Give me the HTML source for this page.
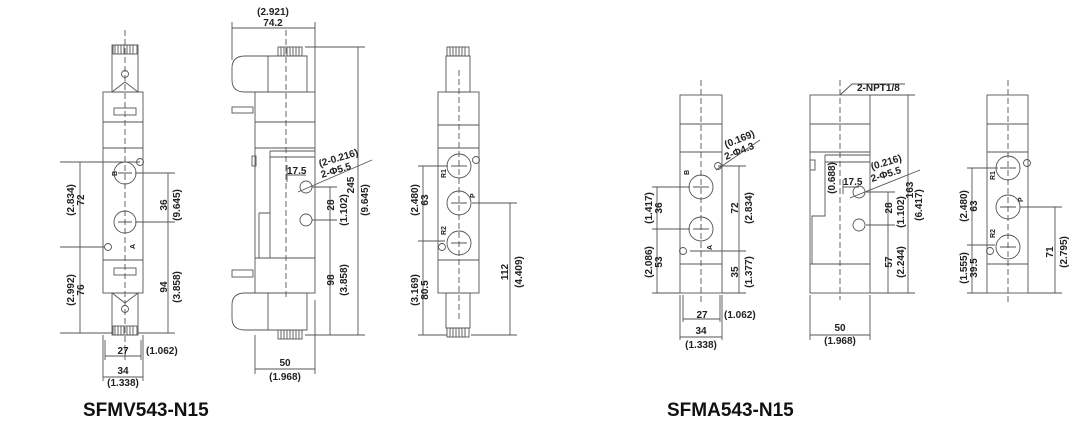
<!DOCTYPE html>
<html><head><meta charset="utf-8"><style>
html,body{margin:0;padding:0;background:#fff;}
svg{display:block}
text{font-family:"Liberation Sans",Arial,sans-serif;font-size:10px;fill:#222;font-weight:bold}
text.p{font-size:7px}
.t{font-size:19px;fill:#111}
</style></head><body>
<svg width="1079" height="437" viewBox="0 0 1079 437" xmlns="http://www.w3.org/2000/svg">
<g fill="none" stroke="#555" stroke-width="0.9">
<!-- VIEW 1 -->
<rect x="103" y="92" width="40" height="201" fill="#fff"/>
<path d="M103 122H143M103 148H143M103 260H143"/>
<rect x="112" y="45" width="26" height="47"/>
<rect x="113" y="45" width="24" height="9"/>
<path d="M115 45v9M118 45v9M121 45v9M124 45v9M127 45v9M130 45v9M133 45v9"/>
<path d="M112 92l13-10l13 10"/>
<rect x="114" y="108" width="22" height="7"/>
<rect x="112" y="293" width="26" height="42"/>
<rect x="113" y="326" width="24" height="9"/>
<path d="M115 326v9M118 326v9M121 326v9M124 326v9M127 326v9M130 326v9M133 326v9"/>
<path d="M112 293l13 10l13-10"/>
<rect x="114" y="268" width="22" height="7"/>
<circle cx="125" cy="173" r="11"/><circle cx="125" cy="222" r="11"/>
<path d="M118 173h14M118 222h14"/>
<circle cx="140" cy="162" r="3.5"/><circle cx="108" cy="247" r="3.5"/>
<circle cx="125" cy="74" r="3.5"/><circle cx="125" cy="309" r="3.5"/>
<path d="M125 30V360" stroke-dasharray="6 3"/>
<path d="M80 162V333M60 162H140M60 247H105M60 333H112M74 247h12"/>
<path d="M168 173V333M135 173H175M135 222H175M138 333H175M162 222h12"/>
<path d="M105 340V360M141 340V360M105 356H141M103 335V381M143 335V381M103 377H143"/>
<!-- VIEW 2 -->
<rect x="255" y="92" width="60" height="201" fill="#fff"/>
<path d="M255 122H315M255 148H315M255 258H315"/>
<path d="M270 151H315M270 157H315M270 151V258M259 213V258M259 213H270"/>
<rect x="252" y="156" width="4" height="10"/>
<path d="M245 56H307V92H245Q232 92 232 80V68Q232 56 245 56Z"/>
<path d="M268 56V92"/>
<rect x="278" y="47" width="24" height="9"/>
<path d="M281 47v9M284 47v9M287 47v9M290 47v9M293 47v9M296 47v9M299 47v9"/>
<rect x="232" y="107" width="21" height="6"/>
<path d="M245 293H307V330H245Q232 330 232 318V305Q232 293 245 293Z"/>
<path d="M268 293V330"/>
<rect x="278" y="330" width="24" height="9"/>
<path d="M281 330v9M284 330v9M287 330v9M290 330v9M293 330v9M296 330v9M299 330v9"/>
<rect x="232" y="270" width="21" height="7"/>
<circle cx="306" cy="187" r="6"/><circle cx="306" cy="220" r="6"/>
<path d="M286 30V300" stroke-dasharray="6 3"/>
<path d="M232 28H315M232 22V60M315 22V92"/>
<path d="M358 47V335M305 47H365M305 335H365"/>
<path d="M330 187V335M312 187H337M312 220H337"/>
<path d="M287 175H306M287 165V182"/>
<path d="M298 192L372 160"/>
<path d="M255 369H315M255 335V374M315 300V374"/>
<!-- VIEW 3 -->
<rect x="438" y="92" width="41" height="201" fill="#fff"/>
<path d="M438 125H479M438 148H479M438 260H479"/>
<rect x="446" y="56" width="24" height="36"/>
<rect x="447" y="47" width="22" height="9"/>
<path d="M450 47v9M453 47v9M456 47v9M459 47v9M462 47v9M465 47v9"/>
<rect x="446" y="293" width="24" height="35"/>
<rect x="447" y="328" width="22" height="9"/>
<path d="M450 328v9M453 328v9M456 328v9M459 328v9M462 328v9M465 328v9"/>
<circle cx="459" cy="166" r="12"/><circle cx="459" cy="203" r="12"/><circle cx="459" cy="243" r="12"/>
<path d="M451 166h16M451 203h16M451 243h16"/>
<circle cx="476" cy="160" r="3.5"/><circle cx="442" cy="247" r="3.5"/>
<path d="M459 70V320" stroke-dasharray="6 3"/>
<path d="M423 166V335M418 166H448M418 241H445M418 335H447"/>
<path d="M510 203V335M472 203H517M471 335H517"/>
<!-- VIEW 4 -->
<rect x="680" y="95" width="42" height="198" fill="#fff"/>
<path d="M680 124H722M680 152H722M680 264H722"/>
<circle cx="701" cy="187" r="12"/><circle cx="701" cy="229" r="12"/>
<path d="M693 187h16M693 229h16"/>
<circle cx="718" cy="166" r="3.5"/><circle cx="683" cy="251" r="3.5"/>
<path d="M701 80V305" stroke-dasharray="6 3"/>
<path d="M657 187V293M652 187H690M652 229H690M652 293H680"/>
<path d="M739 166V293M718 166H746M690 251H746M722 293H746"/>
<path d="M683 295V322M720 295V322M683 319H720M680 295V340M722 295V340M680 337H722"/>
<path d="M716 170L760 140"/>
<!-- VIEW 5 -->
<rect x="810" y="95" width="60" height="198" fill="#fff"/>
<path d="M810 124H870M810 152H870M810 264H870"/>
<path d="M825 155H870M825 162H870M825 155V216H812V264"/>
<rect x="810" y="160" width="5" height="10"/>
<circle cx="859" cy="192" r="6"/><circle cx="859" cy="225" r="6"/>
<path d="M840 80V300" stroke-dasharray="6 3"/>
<path d="M840 95L852 84H905"/>
<path d="M908 95V293M870 95H915M870 293H915"/>
<path d="M888 192V293M866 192H895M866 225H895"/>
<path d="M843 187H859M843 180V194"/>
<path d="M850 198L920 170"/>
<path d="M810 335H870M810 295V340M870 295V340"/>
<!-- VIEW 6 -->
<rect x="987" y="95" width="41" height="198" fill="#fff"/>
<path d="M987 124H1028M987 152H1028M987 264H1028"/>
<circle cx="1008" cy="168" r="12"/><circle cx="1008" cy="207" r="12"/><circle cx="1008" cy="247" r="12"/>
<path d="M1000 168h16M1000 207h16M1000 247h16"/>
<circle cx="1027" cy="163" r="3.5"/><circle cx="990" cy="251" r="3.5"/>
<path d="M1008 80V305" stroke-dasharray="6 3"/>
<path d="M972 168V293M967 168H998M967 245H995M967 293H987"/>
<path d="M1055 207V293M1020 207H1062M1028 293H1062"/>
</g>
<!-- TEXT -->
<g>
<text class="p" transform="translate(117,176) rotate(-90)">B</text>
<text class="p" transform="translate(135,249) rotate(-90)">A</text>
<text transform="translate(74,200) rotate(-90)" text-anchor="middle">(2.834)</text>
<text transform="translate(84,200) rotate(-90)" text-anchor="middle">72</text>
<text transform="translate(74,290) rotate(-90)" text-anchor="middle">(2.992)</text>
<text transform="translate(84,290) rotate(-90)" text-anchor="middle">76</text>
<text transform="translate(167,205) rotate(-90)" text-anchor="middle">36</text>
<text transform="translate(180,205) rotate(-90)" text-anchor="middle">(9.645)</text>
<text transform="translate(167,287) rotate(-90)" text-anchor="middle">94</text>
<text transform="translate(180,287) rotate(-90)" text-anchor="middle">(3.858)</text>
<text x="123" y="354" text-anchor="middle">27</text>
<text x="146" y="354">(1.062)</text>
<text x="123" y="374" text-anchor="middle">34</text>
<text x="123" y="386" text-anchor="middle">(1.338)</text>

<text x="273" y="15" text-anchor="middle">(2.921)</text>
<text x="273" y="26" text-anchor="middle">74.2</text>
<text x="287" y="174">17.5</text>
<text transform="translate(320,167) rotate(-17)">(2-0.216)</text>
<text transform="translate(322,178) rotate(-17)">2-Φ5.5</text>
<text transform="translate(334,205) rotate(-90)" text-anchor="middle">28</text>
<text transform="translate(347,210) rotate(-90)" text-anchor="middle">(1.102)</text>
<text transform="translate(354,185) rotate(-90)" text-anchor="middle">245</text>
<text transform="translate(368,200) rotate(-90)" text-anchor="middle">(9.645)</text>
<text transform="translate(334,280) rotate(-90)" text-anchor="middle">98</text>
<text transform="translate(347,280) rotate(-90)" text-anchor="middle">(3.858)</text>
<text x="285" y="366" text-anchor="middle">50</text>
<text x="285" y="380" text-anchor="middle">(1.968)</text>

<text class="p" transform="translate(446,178) rotate(-90)">R1</text>
<text class="p" transform="translate(475,198) rotate(-90)">P</text>
<text class="p" transform="translate(446,235) rotate(-90)">R2</text>
<text transform="translate(418,200) rotate(-90)" text-anchor="middle">(2.480)</text>
<text transform="translate(428,200) rotate(-90)" text-anchor="middle">63</text>
<text transform="translate(418,290) rotate(-90)" text-anchor="middle">(3.169)</text>
<text transform="translate(428,290) rotate(-90)" text-anchor="middle">80.5</text>
<text transform="translate(508,272) rotate(-90)" text-anchor="middle">112</text>
<text transform="translate(522,272) rotate(-90)" text-anchor="middle">(4.409)</text>

<text class="p" transform="translate(689,175) rotate(-90)">B</text>
<text class="p" transform="translate(712,250) rotate(-90)">A</text>
<text transform="translate(652,208) rotate(-90)" text-anchor="middle">(1.417)</text>
<text transform="translate(662,208) rotate(-90)" text-anchor="middle">36</text>
<text transform="translate(652,262) rotate(-90)" text-anchor="middle">(2.086)</text>
<text transform="translate(662,262) rotate(-90)" text-anchor="middle">53</text>
<text transform="translate(738,208) rotate(-90)" text-anchor="middle">72</text>
<text transform="translate(752,208) rotate(-90)" text-anchor="middle">(2.834)</text>
<text transform="translate(738,272) rotate(-90)" text-anchor="middle">35</text>
<text transform="translate(752,272) rotate(-90)" text-anchor="middle">(1.377)</text>
<text transform="translate(726,148) rotate(-22)">(0.169)</text>
<text transform="translate(726,160) rotate(-22)">2-Φ4.3</text>
<text x="702" y="318" text-anchor="middle">27</text>
<text x="724" y="318">(1.062)</text>
<text x="701" y="334" text-anchor="middle">34</text>
<text x="701" y="348" text-anchor="middle">(1.338)</text>

<text x="857" y="91">2-NPT1/8</text>
<text transform="translate(835,178) rotate(-90)" text-anchor="middle">(0.688)</text>
<text x="843" y="185">17.5</text>
<text transform="translate(872,170) rotate(-17)">(0.216)</text>
<text transform="translate(872,182) rotate(-17)">2-Φ5.5</text>
<text transform="translate(892,208) rotate(-90)" text-anchor="middle">28</text>
<text transform="translate(904,212) rotate(-90)" text-anchor="middle">(1.102)</text>
<text transform="translate(913,190) rotate(-90)" text-anchor="middle">163</text>
<text transform="translate(922,205) rotate(-90)" text-anchor="middle">(6.417)</text>
<text transform="translate(892,262) rotate(-90)" text-anchor="middle">57</text>
<text transform="translate(904,262) rotate(-90)" text-anchor="middle">(2.244)</text>
<text x="840" y="331" text-anchor="middle">50</text>
<text x="840" y="344" text-anchor="middle">(1.968)</text>

<text class="p" transform="translate(995,180) rotate(-90)">R1</text>
<text class="p" transform="translate(1023,202) rotate(-90)">P</text>
<text class="p" transform="translate(995,238) rotate(-90)">R2</text>
<text transform="translate(967,206) rotate(-90)" text-anchor="middle">(2.480)</text>
<text transform="translate(977,206) rotate(-90)" text-anchor="middle">63</text>
<text transform="translate(967,268) rotate(-90)" text-anchor="middle">(1.555)</text>
<text transform="translate(977,268) rotate(-90)" text-anchor="middle">39.5</text>
<text transform="translate(1053,252) rotate(-90)" text-anchor="middle">71</text>
<text transform="translate(1067,252) rotate(-90)" text-anchor="middle">(2.795)</text>

<text class="t" x="83" y="416">SFMV543-N15</text>
<text class="t" x="667" y="416">SFMA543-N15</text>
</g>
</svg>
</body></html>
